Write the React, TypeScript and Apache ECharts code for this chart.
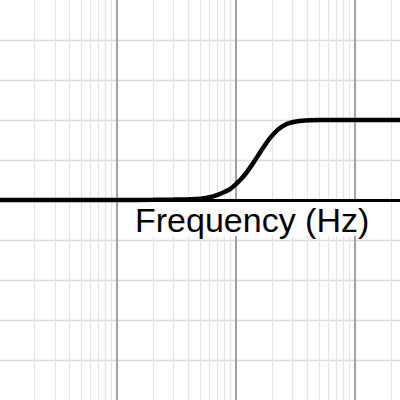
import React, { useEffect, useRef } from "react";
import * as echarts from "echarts";

// Frequency response (log-frequency axis) of a shelving filter
const freqs = [1.04, 10, 20, 30, 40, 50, 60, 70, 80, 90, 100, 110, 120, 130, 145, 160, 175, 190, 210, 230, 255, 280, 310, 340, 380, 420, 500, 700, 1000, 2390];
const gains = [0, 0, 0.005, 0.01, 0.02, 0.03, 0.07, 0.13, 0.2, 0.28, 0.4, 0.52, 0.65, 0.79, 1.0, 1.2, 1.37, 1.52, 1.67, 1.78, 1.87, 1.92, 1.955, 1.975, 1.99, 1.995, 2.0, 2.0, 2.0, 2.0];

const majorFreqs = [10, 100, 1000];
const minorFreqs = [2, 3, 4, 5, 6, 7, 8, 9, 20, 30, 40, 50, 60, 70, 80, 90, 200, 300, 400, 500, 600, 700, 800, 900, 2000];
const axisLabel = "Frequency (Hz)";

export default function App() {
  const ref = useRef<HTMLDivElement>(null);
  useEffect(() => {
    if (!ref.current) return;
    const chart = echarts.init(ref.current, undefined, { renderer: "svg" });
    chart.setOption({
      animation: false,
      backgroundColor: "#ffffff",
      grid: { left: 0, right: 0, top: 0, bottom: 0 },
      xAxis: {
        type: "log",
        min: 1.04,
        max: 2390,
        z: 10,
        axisLine: { show: true, onZero: true, lineStyle: { color: "#000", width: 3 } },
        axisTick: { show: false },
        axisLabel: { show: false },
        splitLine: { show: false },
      },
      yAxis: {
        type: "value",
        min: -5,
        max: 5,
        interval: 1,
        axisLine: { show: false },
        axisTick: { show: false },
        axisLabel: { show: false },
        splitLine: { show: true, showMaxLine: false, showMinLine: false, lineStyle: { color: "#dcdcdc", width: 1.3 } },
      },
      graphic: [
        { type: "rect", z: 50, shape: { x: 121, y: 202, width: 252, height: 34 }, style: { fill: "#ffffff" } },
        {
          type: "text",
          z: 51,
          x: 135,
          y: 219.5,
          style: {
            text: axisLabel,
            font: "34px 'Liberation Sans', Arial, sans-serif",
            fill: "#000",
            textVerticalAlign: "middle",
          },
        },
      ],
      series: [
        {
          type: "line",
          data: [],
          silent: true,
          z: 1,
          markLine: {
            silent: true,
            symbol: ["none", "none"],
            label: { show: false },
            lineStyle: { color: "#e4e4e4", width: 1.2, type: "solid" },
            data: minorFreqs.map((v) => ({ xAxis: v })),
          },
        },
        {
          type: "line",
          data: [],
          silent: true,
          z: 2,
          markLine: {
            silent: true,
            symbol: ["none", "none"],
            label: { show: false },
            lineStyle: { color: "#a3a3a3", width: 2, type: "solid" },
            data: majorFreqs.map((v) => ({ xAxis: v })),
          },
        },
        {
          type: "line",
          z: 60,
          data: freqs.map((f, i) => [f, gains[i]]),
          smooth: 0.2,
          showSymbol: false,
          lineStyle: { color: "#000", width: 4.5 },
        },
      ],
    });
    return () => chart.dispose();
  }, []);
  return <div ref={ref} style={{ width: 400, height: 400, position: "absolute", left: 0, top: 0 }} />;
}
